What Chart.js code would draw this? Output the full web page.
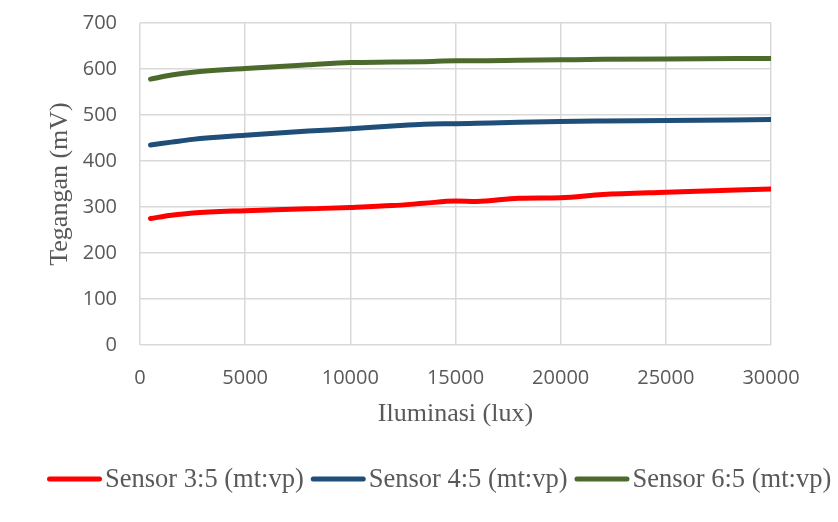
<!DOCTYPE html>
<html>
<head>
<meta charset="utf-8">
<script src="https://cdn.jsdelivr.net/npm/chart.js@4.4.1/dist/chart.umd.min.js"></script>
<style>
  html, body { margin: 0; padding: 0; background: #fff; }
  #wrap { width: 838px; height: 522px; }
</style>
</head>
<body>
<div id="wrap"><canvas id="chart" width="838" height="522"></canvas></div>
<script>
// illuminance (lux) at each measurement
var luxValues = [500, 1500, 2500, 5000, 8000, 10000, 12000, 13500, 15000, 16000, 18000, 20000, 22000, 25000, 30000];
// voltage (mV) per sensor
var sensor35 = [275, 282, 287, 292, 296, 299, 303, 308, 313, 312, 319, 320, 327, 332, 339];
var sensor45 = [435, 441, 447, 456, 465, 470, 476, 480, 481, 482, 484, 486, 487, 488, 490];
var sensor65 = [578, 587, 593, 601, 609, 614, 615, 616, 618, 618, 619, 620, 621, 622, 623];
var seriesNames = ['Sensor 3:5 (mt:vp)', 'Sensor 4:5 (mt:vp)', 'Sensor 6:5 (mt:vp)'];
var seriesColors = ['#FF0000', '#1F4E79', '#4C6A2B'];

function toPoints(ys) {
  return luxValues.map(function(x, i) { return { x: x, y: ys[i] }; });
}

var allSeries = [sensor35, sensor45, sensor65];
var datasets = allSeries.map(function(ys, i) {
  return {
    label: seriesNames[i],
    data: toPoints(ys),
    borderColor: seriesColors[i],
    backgroundColor: seriesColors[i],
    borderWidth: 5,
    pointRadius: 0,
    showLine: true,
    cubicInterpolationMode: 'monotone',
    borderCapStyle: 'round'
  };
});

var textGrey = '#595959';
var tickFont = { family: 'Open Sans', size: 20 };
var serifFont = { family: 'Liberation Serif', size: 26 };

// legend like Excel: long line sample, text right next to it
var excelLegend = {
  id: 'excelLegend',
  afterDraw: function(chart) {
    var ctx = chart.ctx;
    var x = 47, y = 479;
    ctx.save();
    ctx.font = '26.5px "Liberation Serif"';
    ctx.textBaseline = 'middle';
    chart.data.datasets.forEach(function(ds) {
      ctx.strokeStyle = ds.borderColor;
      ctx.lineWidth = 5;
      ctx.lineCap = 'round';
      ctx.beginPath();
      ctx.moveTo(x + 2.5, y);
      ctx.lineTo(x + 52.5, y);
      ctx.stroke();
      x += 58;
      ctx.fillStyle = textGrey;
      ctx.fillText(ds.label, x, y + 1);
      x += ctx.measureText(ds.label).width + 7;
    });
    ctx.restore();
  }
};

new Chart(document.getElementById('chart'), {
  type: 'scatter',
  data: { datasets: datasets },
  options: {
    responsive: false,
    animation: false,
    layout: { padding: { left: 0, right: 67, top: 23, bottom: 92 } },
    plugins: {
      tooltip: { enabled: false },
      legend: { display: false }
    },
    scales: {
      x: {
        type: 'linear',
        min: 0,
        max: 30000,
        ticks: {
          stepSize: 5000, color: textGrey, font: tickFont, padding: 21, maxRotation: 0,
          callback: function(v) { return String(v); }
        },
        grid: { color: '#d9d9d9', lineWidth: 1.5, drawTicks: false },
        border: { display: false },
        title: { display: true, text: 'Iluminasi (lux)', color: textGrey, font: serifFont, padding: { top: 0, bottom: 0 } },
        afterFit: function(scale) { scale.height = 85; }
      },
      y: {
        min: 0,
        max: 700,
        ticks: { stepSize: 100, color: textGrey, font: tickFont, padding: 23 },
        grid: { color: '#d9d9d9', lineWidth: 1.5, drawTicks: false },
        border: { display: false },
        title: { display: true, text: 'Tegangan (mV)', color: textGrey, font: serifFont, padding: { top: 45, bottom: 0 } },
        afterFit: function(scale) {
          scale.width = 140;
          scale.paddingTop = 0;
          scale.paddingBottom = 0;
        }
      }
    }
  },
  plugins: [excelLegend]
});
</script>
</body>
</html>
